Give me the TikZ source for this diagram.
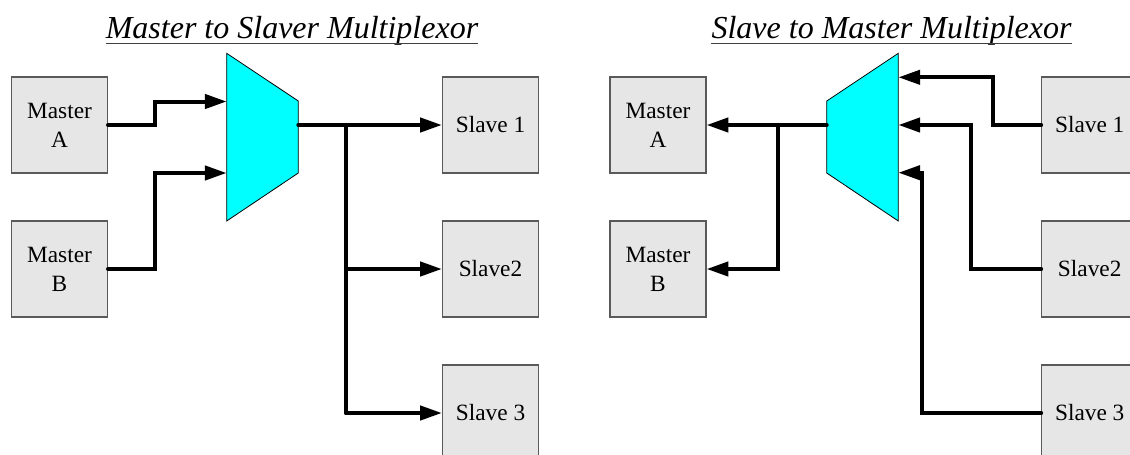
\documentclass[tikz,border=0pt]{standalone}
\usepackage{fontspec}
\setmainfont{Liberation Serif}
\usetikzlibrary{arrows.meta}
\definecolor{boxfill}{HTML}{E6E6E6}
\definecolor{boxline}{HTML}{5A5A5A}
\definecolor{muxfill}{HTML}{00FFFF}
\tikzset{
  blk/.style={draw=boxline, line width=0.8pt, fill=boxfill, minimum width=72pt, minimum height=72pt,
    align=center, inner sep=0pt, font=\fontsize{17.5}{21.75}\selectfont},
  conn/.style={line width=3pt, line join=miter, line cap=round},
  arr/.style={conn, -{Triangle[length=16.3pt,width=10.5pt]}},
  muxshape/.style={draw=black, line width=0.6pt, fill=muxfill},
  ttl/.style={anchor=base, inner sep=0pt, font=\fontsize{24}{28}\selectfont\itshape},
  uline/.style={line width=1.1pt, draw=black!75}
}
\begin{document}
\begin{tikzpicture}[x=0.75pt, y=-0.75pt]
\useasboundingbox (0,0) rectangle (1130,454);
% ---------- left panel ----------
\node[ttl] (t1) at (292,38.5) {Master to Slaver Multiplexor};
\draw[uline] ([yshift=-3.75pt]t1.base west) -- ([yshift=-3.75pt]t1.base east);
\node[blk] (ma) at (59.5,125) {Master\\A};
\node[blk] (mb) at (59.5,269) {Master\\B};
\node[blk] (s1) at (490.5,125) {Slave 1};
\node[blk] (s2) at (490.5,269) {Slave2};
\node[blk] (s3) at (490.5,413) {Slave 3};
\draw[muxshape] (226.7,53.3) -- (298.3,101) -- (298.3,173) -- (226.7,221) -- cycle;
\coordinate (lin1) at (226.7,101.5);
\coordinate (lin2) at (226.7,173);
\coordinate (lout) at (298.3,125);
\coordinate (lj) at (346,125);
\draw[arr] (ma.east) -- (155,125) |- (lin1);
\draw[arr] (mb.east) -- (155,269) |- (lin2);
\draw[arr] (lout) -- (s1.west);
\draw[conn] (lj) -- (346,413);
\draw[arr] (346,269) -- (s2.west);
\draw[arr] (346,413) -- (s3.west);
% ---------- right panel ----------
\node[ttl] (t2) at (891.5,38.5) {Slave to Master Multiplexor};
\draw[uline] ([yshift=-3.75pt]t2.base west) -- ([yshift=-3.75pt]t2.base east);
\node[blk] (ma2) at (658,125) {Master\\A};
\node[blk] (mb2) at (658,269) {Master\\B};
\node[blk] (r1) at (1089.7,125) {Slave 1};
\node[blk] (r2) at (1089.7,269) {Slave2};
\node[blk] (r3) at (1089.7,413) {Slave 3};
\draw[muxshape] (898.3,53.3) -- (826.7,101) -- (826.7,173) -- (898.3,221) -- cycle;
\coordinate (rout) at (826.7,125);
\coordinate (rin1) at (898.3,77.3);
\coordinate (rin2) at (898.3,125);
\coordinate (rin3) at (898.3,172.7);
\draw[arr] (rout) -- (ma2.east);
\draw[arr] (778,125) |- (mb2.east);
\draw[arr] (r1.west) -- (993.3,125) |- (rin1);
\draw[arr] (r2.west) -- (970.7,269) |- (rin2);
\draw[arr] (r3.west) -- (921.7,413) |- (rin3);
\end{tikzpicture}
\end{document}
